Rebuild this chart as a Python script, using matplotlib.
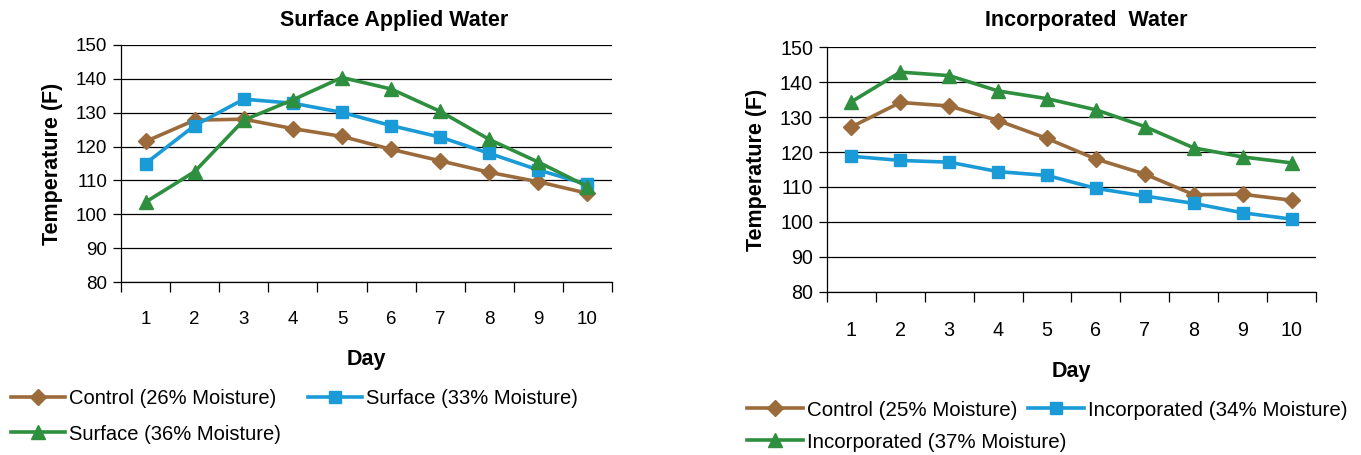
import numpy as np
import matplotlib
matplotlib.use("Agg")
import matplotlib.pyplot as plt

plt.rcParams['font.family'] = ['Liberation Sans', 'DejaVu Sans']

days = [1, 2, 3, 4, 5, 6, 7, 8, 9, 10]

# Surface applied water (temperature, F)
surf_control = [121.5, 127.8, 128.1, 125.3, 123.0, 119.2, 115.8, 112.4, 109.6, 106.2]
surf_33 = [115.0, 126.2, 134.0, 132.8, 130.1, 126.2, 122.8, 118.0, 113.1, 108.8]
surf_36 = [103.6, 112.6, 127.8, 133.8, 140.4, 137.0, 130.4, 122.1, 115.4, 108.2]

# Incorporated water (temperature, F)
inc_control = [127.2, 134.2, 133.2, 129.0, 123.9, 118.0, 113.7, 107.8, 107.9, 106.2]
inc_34 = [118.8, 117.6, 117.1, 114.4, 113.3, 109.6, 107.4, 105.3, 102.6, 100.8]
inc_37 = [134.4, 142.9, 141.9, 137.5, 135.3, 132.1, 127.3, 121.2, 118.6, 116.9]

labels_left = ["Control (26% Moisture)", "Surface (33% Moisture)", "Surface (36% Moisture)"]
labels_right = ["Control (25% Moisture)", "Incorporated (34% Moisture)", "Incorporated (37% Moisture)"]

brown = '#9C6B3C'
blue = '#1A9AD6'
green = '#2E8F3E'

fig = plt.figure(figsize=(13.61, 4.55), dpi=100)
ax1 = fig.add_axes([0.0889, 0.3802, 0.3608, 0.5209])
ax2 = fig.add_axes([0.6076, 0.3589, 0.3593, 0.5371])


def draw(ax, series, labels, tsize):
    lines = []
    styles = [(brown, 'D', 8), (blue, 's', 8.5), (green, '^', 10)]
    for vals, lab, (c, m, ms) in zip(series, labels, styles):
        ln, = ax.plot(days, vals, color=c, marker=m, markersize=ms, linewidth=2.6,
                      label=lab, zorder=3)
        lines.append(ln)
    ax.set_xlim(0.5, 10.5)
    ax.set_ylim(80, 150)
    ax.set_yticks(np.arange(80, 151, 10))
    ax.yaxis.grid(True, color='black', linewidth=0.9)
    ax.set_axisbelow(True)
    # tick marks sit between the categories, labels at the centres
    ax.set_xticks(np.arange(0.5, 10.6, 1))
    ax.set_xticklabels([])
    ax.set_xticks(days, minor=True)
    ax.set_xticklabels([str(d) for d in days], minor=True)
    ax.tick_params(axis='x', which='major', direction='out', length=7, width=0.9)
    ax.tick_params(axis='x', which='minor', length=0, pad=21, labelsize=tsize)
    ax.tick_params(axis='y', direction='out', length=6, width=0.9, pad=4, labelsize=tsize)
    for s in ['top', 'right']:
        ax.spines[s].set_visible(False)
    ax.spines['left'].set_linewidth(0.9)
    ax.spines['bottom'].set_linewidth(0.9)
    ax.set_ylabel('Temperature (F)', fontsize=15.5, fontweight='bold', labelpad=9)
    ax.set_xlabel('Day', fontsize=15.5, fontweight='bold', labelpad=15)
    return lines


l1 = draw(ax1, [surf_control, surf_33, surf_36], labels_left, 13.5)
l2 = draw(ax2, [inc_control, inc_34, inc_37], labels_right, 14.2)

fig.text(0.2895, 0.956, 'Surface Applied Water', ha='center', va='center',
         fontsize=15.5, fontweight='bold')
fig.text(0.798, 0.956, 'Incorporated  Water', ha='center', va='center',
         fontsize=15.5, fontweight='bold')


def legend_item(line, label, x_px, y_px, size):
    fig.legend([line], [label], loc='center left',
               bbox_to_anchor=(x_px / 1361, 1 - y_px / 455), frameon=False,
               fontsize=size, handlelength=2.7, handletextpad=0.2,
               borderpad=0, borderaxespad=0)


legend_item(l1[0], labels_left[0], 11, 399, 14.5)
legend_item(l1[1], labels_left[1], 308, 399, 14.5)
legend_item(l1[2], labels_left[2], 11, 434, 14.5)
legend_item(l2[0], labels_right[0], 747, 410, 14.8)
legend_item(l2[1], labels_right[1], 1028, 410, 14.8)
legend_item(l2[2], labels_right[2], 747, 442, 14.8)

fig.savefig('out.png', dpi=100)
